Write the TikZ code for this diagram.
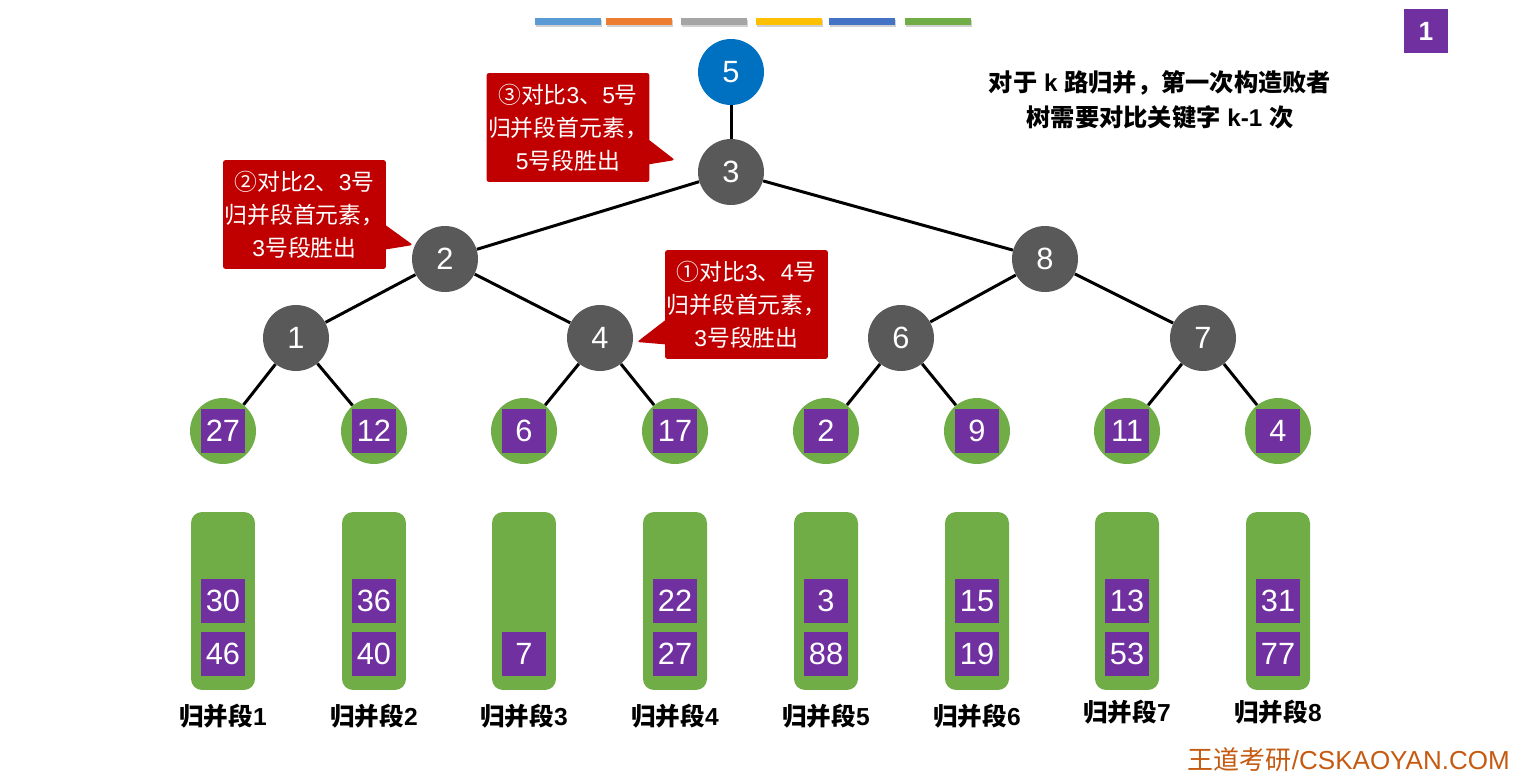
\documentclass[tikz,border=0pt]{standalone}
\usepackage{fontspec}
\setmainfont{Liberation Sans}
\newfontfamily\cjk{Noto Sans CJK SC}
\usetikzlibrary{shapes.callouts,calc}
\definecolor{rootblue}{RGB}{0,112,192}
\definecolor{nodegray}{RGB}{89,89,89}
\definecolor{leafgreen}{RGB}{112,173,71}
\definecolor{keypurple}{RGB}{112,48,160}
\definecolor{notered}{RGB}{192,0,0}
\definecolor{sitebrown}{RGB}{197,90,17}
\definecolor{barA}{RGB}{91,155,213}
\definecolor{barB}{RGB}{237,125,49}
\definecolor{barC}{RGB}{165,165,165}
\definecolor{barD}{RGB}{255,192,0}
\definecolor{barE}{RGB}{68,114,196}
\definecolor{barF}{RGB}{112,173,71}
\tikzset{
  tnode/.style={circle,fill=nodegray,text=white,minimum size=1.32cm,inner sep=0pt,
    font=\fontsize{17.5}{20}\selectfont},
  leaf/.style={circle,fill=leafgreen,minimum size=1.32cm,inner sep=0pt},
  key/.style={fill=keypurple,text=white,minimum size=0.88cm,inner sep=0pt,
    font=\fontsize{17.5}{20}\selectfont},
  seg/.style={fill=leafgreen,rounded corners=0.22cm,minimum width=1.28cm,minimum height=3.56cm,inner sep=0pt},
  seglabel/.style={font=\bfseries\fontsize{14}{16}\selectfont},
  note/.style={rectangle callout,fill=notered,text=white,rounded corners=1.5pt,
    minimum width=3.26cm,minimum height=2.18cm,inner sep=0pt,align=center,
    callout pointer width=0.48cm,font=\fontsize{13}{18.8}\selectfont},
  link/.style={line width=1.7pt},
}
\begin{document}
\begin{tikzpicture}[x=0.02cm,y=-0.02cm]
\useasboundingbox (0,0) rectangle (1532,778);
% colour bars on top
\foreach \c/\x in {barA/535,barB/606,barC/681,barD/756,barE/829,barF/905}{
  \fill[black!18] (\x+1,20) rectangle (\x+67,27);
  \fill[\c] (\x,18) rectangle (\x+66,25);
}
% tree
\node[tnode,fill=rootblue] (n5) at (731,72) {5};
\node[tnode] (n3) at (731,172) {3};
\node[tnode] (n2) at (445,259) {2};
\node[tnode] (n8) at (1045,259) {8};
\node[tnode] (n1) at (296,338) {1};
\node[tnode] (n4) at (600,338) {4};
\node[tnode] (n6) at (901,338) {6};
\node[tnode] (n7) at (1203,338) {7};
% leaves with current keys
\foreach \i/\x/\k in {1/223/27,2/374/12,3/524/6,4/675/17,5/826/2,6/977/9,7/1127/11,8/1278/4}{
  \node[leaf] (leaf\i) at (\x,431) {};
  \node[key] (key\i) at (\x,431) {\k};
}
\draw[link] (n5) -- (n3);
\foreach \a/\b in {n3/n2,n3/n8,n2/n1,n2/n4,n8/n6,n8/n7,n1/leaf1,n1/leaf2,n4/leaf3,n4/leaf4,n6/leaf5,n6/leaf6,n7/leaf7,n7/leaf8}
  \draw[link] (\a) -- (\b);
% merge runs
\foreach \i/\x/\b/\ly in {1/223/46/716,2/374/40/716,3/524/7/716,4/675/27/716,5/826/88/716,6/977/19/716,7/1127/53/712,8/1278/77/712}{
  \node[seg] (seg\i) at (\x,601) {};
  \node[key] (bot\i) at (\x,654) {\b};
  \node[seglabel] (lab\i) at (\x,\ly) {{\cjk 归并段}\i};
}
\foreach \i/\x/\a in {1/223/30,2/374/36,4/675/22,5/826/3,6/977/15,7/1127/13,8/1278/31}
  \node[key] (top\i) at (\x,601) {\a};
% callouts
\node[note,callout absolute pointer={($(n3)+(-56,-12)$)}] (c3) at (568,127.5)
  {{\cjk ③对比}3{\cjk 、}5{\cjk 号}\\{\cjk 归并段首元素，}\\5{\cjk 号段胜出}};
\node[note,callout absolute pointer={($(n2)+(-32,-14)$)}] (c2) at (304.5,214.5)
  {{\cjk ②对比}2{\cjk 、}3{\cjk 号}\\{\cjk 归并段首元素，}\\3{\cjk 号段胜出}};
\node[note,callout absolute pointer={($(n4)+(37,4)$)}] (c1) at (746.5,304.5)
  {{\cjk ①对比}3{\cjk 、}4{\cjk 号}\\{\cjk 归并段首元素，}\\3{\cjk 号段胜出}};
% remark and corner marks
\node[align=center,font=\bfseries\fontsize{13.8}{19.9}\selectfont] (remark) at (1160,100)
  {{\cjk 对于} k {\cjk 路归并，第一次构造败者}\\{\cjk 树需要对比关键字} k-1 {\cjk 次}};
\node[key,font=\bfseries\fontsize{15}{18}\selectfont] (badge) at (1426,31) {1};
\node[anchor=east,text=sitebrown,inner sep=0pt,font=\fontsize{14.8}{17}\selectfont] (site) at (1510,760)
  {{\cjk 王道考研}/CSKAOYAN.COM};
\end{tikzpicture}
\end{document}
